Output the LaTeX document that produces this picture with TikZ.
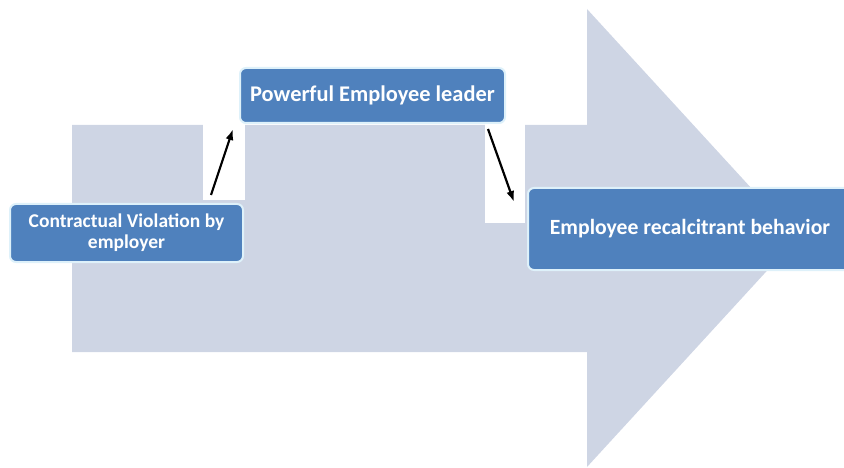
\documentclass[tikz,border=0pt]{standalone}
\usepackage{fontspec}
\setmainfont{Carlito}                 % metrique de Calibri
\usepackage{tikz}
\usetikzlibrary{calc,                 % Calculs de coordonnees entre $ $
           positioning,
           arrows.meta}
\definecolor{fond}{RGB}{206,213,228}
\definecolor{boite}{RGB}{79,129,189}
\definecolor{liseret}{RGB}{222,241,250}
\tikzset{etape/.style={fill=boite,draw=liseret,line width=2pt,rounded corners=6pt,
                       text=white,inner sep=0,align=center},
         fleche/.style={-{Latex[length=11pt,width=8pt]},line width=2.2pt,black}}

\begin{document}
\begin{tikzpicture}[x=1pt,y=-1pt]
\useasboundingbox (0,0) rectangle (844,468);
% grande fleche de fond
\fill[fond] (72,125) -- (587,125) -- (587,9) -- (797,238) -- (587,467) -- (587,352) -- (72,352) -- cycle;
\fill[white] (203,90) rectangle (245,200);
\fill[white] (485,123) rectangle (525,223);
\node[etape,minimum width=233,minimum height=58,font=\bfseries\fontsize{19.5}{21}\selectfont](CV) at (126.5,233)
     {Contractual Violation by\\employer};
\node[etape,minimum width=265,minimum height=55,font=\bfseries\fontsize{22.4}{24}\selectfont](PL) at (372.5,95.5)
     {Powerful Employee leader};
\node[etape,minimum width=324,minimum height=82,font=\bfseries\fontsize{21.7}{24}\selectfont](ER) at (690,229)
     {Employee recalcitrant behavior};
\draw[fleche]($(CV.north east)+(-33,-8)$) -- ($(PL.south west)+(-6,5)$);
\draw[fleche]($(PL.south east)+(-18,5)$) -- ($(ER.north west)+(-13,15)$);
\end{tikzpicture}
\end{document}
